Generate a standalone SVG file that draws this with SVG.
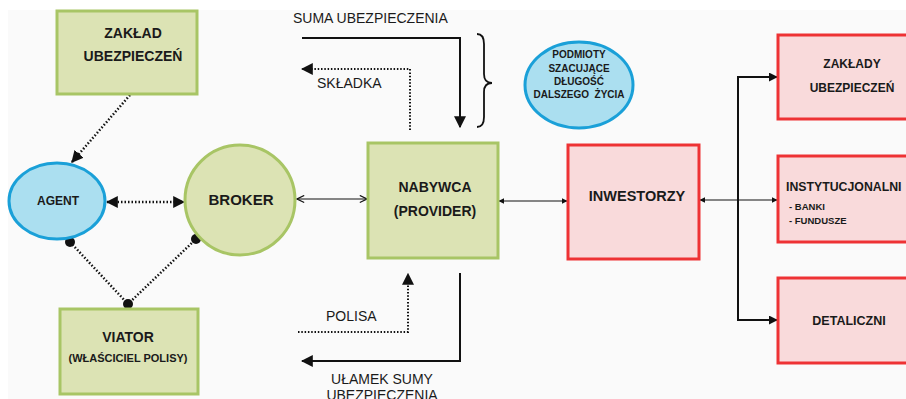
<svg xmlns="http://www.w3.org/2000/svg" width="906" height="399" viewBox="0 0 906 399">
<defs>
<style>
.g{fill:#dce3b4;stroke:#a8c565;stroke-width:3}
.r{fill:#f9dadb;stroke:#ee3234;stroke-width:3}
.b{fill:#abdff0;stroke:#1aa0d8;stroke-width:3}
.t{font-family:"Liberation Sans",Arial,sans-serif;font-weight:bold;fill:#1a1a1a;text-anchor:middle}
.ts{font-family:"Liberation Sans",Arial,sans-serif;font-weight:bold;fill:#1a1a1a;text-anchor:start}
.n{font-family:"Liberation Sans",Arial,sans-serif;fill:#1a1a1a}
.s{fill:none;stroke:#111;stroke-width:2}
.d{fill:none;stroke:#111;stroke-width:2.5;stroke-dasharray:1.5 2}
.d2{fill:none;stroke:#111;stroke-width:2;stroke-dasharray:1.5 1.8}
.th{fill:none;stroke:#111;stroke-width:1.2}
</style>
<marker id="ah" viewBox="0 0 10 10" refX="9" refY="5" markerWidth="6" markerHeight="6" orient="auto-start-reverse" markerUnits="userSpaceOnUse"><path d="M0,0 L10,5 L0,10 Z" fill="#111"/></marker>
<marker id="ahL" viewBox="0 0 10 10" refX="9" refY="5" markerWidth="12" markerHeight="12" orient="auto-start-reverse" markerUnits="userSpaceOnUse"><path d="M0,0 L10,5 L0,10 Z" fill="#111"/></marker>
<marker id="ahM" viewBox="0 0 10 10" refX="9" refY="5" markerWidth="9" markerHeight="9" orient="auto-start-reverse" markerUnits="userSpaceOnUse"><path d="M0,0 L10,5 L0,10 Z" fill="#111"/></marker>
<marker id="ahO" viewBox="0 0 10 10" refX="9" refY="5" markerWidth="9" markerHeight="9" orient="auto-start-reverse" markerUnits="userSpaceOnUse"><path d="M1,1 L9,5 L1,9" fill="none" stroke="#111" stroke-width="1.3"/></marker>
<marker id="dot" viewBox="0 0 10 10" refX="5" refY="5" markerWidth="10" markerHeight="10" markerUnits="userSpaceOnUse"><circle cx="5" cy="5" r="5" fill="#111"/></marker>
</defs>
<rect x="0" y="0" width="906" height="399" fill="#ffffff"/>
<rect x="8" y="10" width="898" height="389" fill="#fafafa"/>

<g id="connectors">
<polyline class="s" points="302,38 460,38 460,127" marker-end="url(#ahL)"/>
<polyline class="d2" points="410,130 410,69 302,69" marker-end="url(#ahL)"/>
<path d="M477,34 Q484,34 484,44 L484,74 Q484,83 492,83 Q484,83 484,92 L484,117 Q484,127 477,127" fill="none" stroke="#111" stroke-width="1.8"/>
<polyline class="d2" points="298,332 408,332 408,274" marker-end="url(#ahL)"/>
<polyline class="s" points="460,273 460,361 302,361" marker-end="url(#ahL)"/>
<line class="d" x1="130" y1="95" x2="72" y2="162" marker-end="url(#ahL)"/>
<line class="d" x1="107" y1="202" x2="184" y2="202" marker-start="url(#ahL)" marker-end="url(#ahL)"/>
<polyline class="d" points="70,242 128,304 196,239" marker-start="url(#dot)" marker-mid="url(#dot)" marker-end="url(#dot)"/>
<line class="th" x1="297" y1="199" x2="367" y2="199" marker-start="url(#ahO)" marker-end="url(#ahO)"/>
<line class="th" x1="499" y1="201" x2="567" y2="201" marker-start="url(#ah)" marker-end="url(#ah)"/>
<line class="th" x1="700" y1="200" x2="777" y2="200" marker-start="url(#ah)" marker-end="url(#ah)"/>
<polyline class="s" points="777,77 738,77 738,320 777,320" marker-start="url(#ahM)" marker-end="url(#ahM)"/>
</g>

<text class="n" x="293" y="23" font-size="14">SUMA UBEZPIECZENIA</text>
<text class="n" x="317" y="88" font-size="14">SKŁADKA</text>
<text class="n" x="326" y="321" font-size="14">POLISA</text>
<text class="n" x="382" y="384" font-size="14" text-anchor="middle">UŁAMEK SUMY</text>
<text class="n" x="382" y="400" font-size="14" text-anchor="middle">UBEZPIECZENIA</text>

<g id="zaklad">
<rect class="g" x="57" y="11" width="140" height="83"/>
<text class="t" x="133" y="38" font-size="14">ZAKŁAD</text>
<text class="t" x="133" y="61" font-size="14">UBEZPIECZEŃ</text>
</g>
<g id="podmioty">
<ellipse class="b" cx="579" cy="85" rx="54" ry="43"/>
<text class="t" x="579" y="58" font-size="10">PODMIOTY</text>
<text class="t" x="579" y="72" font-size="10">SZACUJĄCE</text>
<text class="t" x="579" y="85" font-size="10">DŁUGOŚĆ</text>
<text class="t" x="579" y="98" font-size="10" xml:space="preserve">DALSZEGO  ŻYCIA</text>
</g>
<g id="agent">
<ellipse class="b" cx="57" cy="201" rx="48" ry="38"/>
<text class="t" x="58" y="205" font-size="12">AGENT</text>
</g>
<g id="broker">
<circle class="g" cx="240" cy="200" r="55"/>
<text class="t" x="241" y="205" font-size="15">BROKER</text>
</g>
<g id="nabywca">
<rect class="g" x="368" y="143" width="130" height="115"/>
<text class="t" x="435" y="192" font-size="14">NABYWCA</text>
<text class="t" x="435" y="216" font-size="14">(PROVIDER)</text>
</g>
<g id="inwestorzy">
<rect class="r" x="568" y="145" width="131" height="114"/>
<text class="t" x="637" y="201" font-size="14.5">INWESTORZY</text>
</g>
<g id="viator">
<rect class="g" x="60" y="309" width="138" height="85"/>
<text class="t" x="128" y="342" font-size="14">VIATOR</text>
<text class="t" x="128" y="362" font-size="11">(WŁAŚCICIEL POLISY)</text>
</g>
<g id="zaklady">
<rect class="r" x="778" y="35" width="140" height="84"/>
<text class="t" x="852" y="68" font-size="12">ZAKŁADY</text>
<text class="t" x="852" y="92" font-size="12">UBEZPIECZEŃ</text>
</g>
<g id="instytucjonalni">
<rect class="r" x="778" y="156" width="140" height="86"/>
<text class="ts" x="786" y="191" font-size="12.3">INSTYTUCJONALNI</text>
<text class="ts" x="789" y="210" font-size="9.5">- BANKI</text>
<text class="ts" x="789" y="224" font-size="9.5">- FUNDUSZE</text>
</g>
<g id="detaliczni">
<rect class="r" x="778" y="278" width="140" height="85"/>
<text class="t" x="849" y="325" font-size="12.5">DETALICZNI</text>
</g>
</svg>
